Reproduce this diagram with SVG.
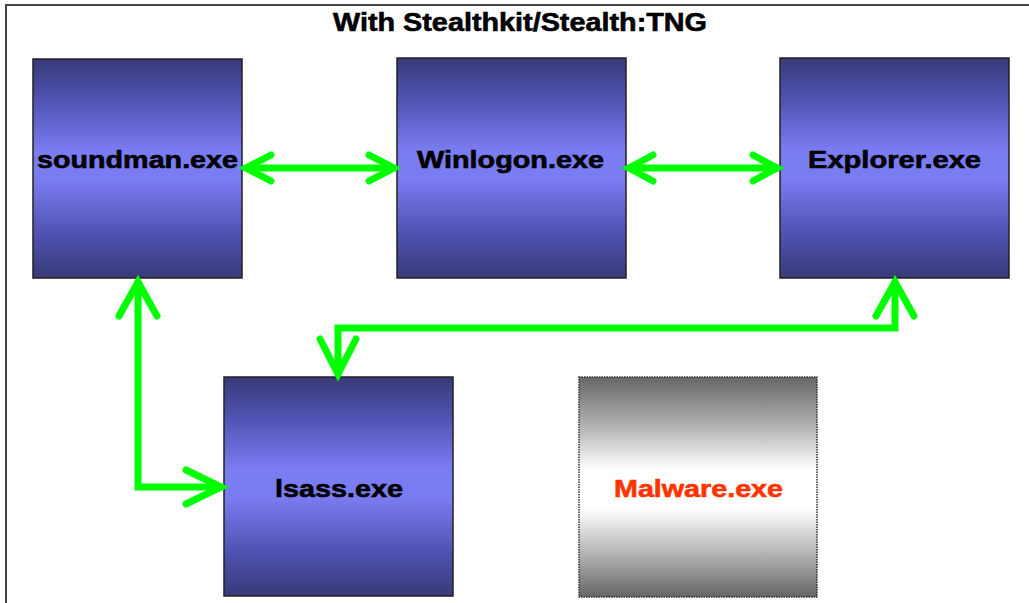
<svg xmlns="http://www.w3.org/2000/svg" width="1029" height="603" viewBox="0 0 1029 603">
<defs>
<linearGradient id="blue" x1="0" y1="0" x2="0" y2="1">
<stop offset="0" stop-color="#383a78"/>
<stop offset="0.18" stop-color="#4f52b0"/>
<stop offset="0.42" stop-color="#7a7cf2"/>
<stop offset="0.55" stop-color="#7a7cf2"/>
<stop offset="0.8" stop-color="#4f52b0"/>
<stop offset="1" stop-color="#383a78"/>
</linearGradient>
<linearGradient id="grey" x1="0" y1="0" x2="0" y2="1">
<stop offset="0" stop-color="#666666"/>
<stop offset="0.25" stop-color="#bcbcbc"/>
<stop offset="0.42" stop-color="#ffffff"/>
<stop offset="0.6" stop-color="#ffffff"/>
<stop offset="0.78" stop-color="#bcbcbc"/>
<stop offset="1" stop-color="#666666"/>
</linearGradient>
</defs>
<style>
.box{fill:url(#blue);stroke:#222;stroke-width:1.5}
.gbox{fill:url(#grey);stroke:#333;stroke-width:1.5;stroke-dasharray:1.5 1}
.lbl{font-family:"Liberation Sans",Arial,sans-serif;font-weight:bold;font-size:24px;fill:#000;stroke:#000;stroke-width:0.6}
.conn{fill:none;stroke:#00ff00;stroke-width:7;stroke-linecap:round;stroke-linejoin:miter}
</style>
<rect x="0" y="0" width="1029" height="603" fill="#fff"/>
<path d="M6,603 V5 H1029" fill="none" stroke="#444" stroke-width="2"/>
<text x="520" y="31" text-anchor="middle" textLength="374" lengthAdjust="spacingAndGlyphs" style="font-family:'Liberation Sans',Arial,sans-serif;font-weight:bold;font-size:26px;fill:#000;stroke:#000;stroke-width:0.6">With Stealthkit/Stealth:TNG</text>

<g id="soundman">
<rect class="box" x="33" y="59" width="209" height="219"/>
<text class="lbl" x="37" y="168" textLength="201" lengthAdjust="spacingAndGlyphs">soundman.exe</text>
</g>
<g id="winlogon">
<rect class="box" x="397" y="58" width="229" height="220"/>
<text class="lbl" x="417" y="168" textLength="187" lengthAdjust="spacingAndGlyphs">Winlogon.exe</text>
</g>
<g id="explorer">
<rect class="box" x="780" y="58" width="229" height="220"/>
<text class="lbl" x="808" y="168" textLength="173" lengthAdjust="spacingAndGlyphs">Explorer.exe</text>
</g>
<g id="lsass">
<rect class="box" x="224" y="377" width="229" height="219"/>
<text class="lbl" x="275" y="497" textLength="128" lengthAdjust="spacingAndGlyphs">lsass.exe</text>
</g>
<g id="malware">
<rect class="gbox" x="579" y="377" width="238" height="220"/>
<text class="lbl" x="614" y="497" textLength="169" lengthAdjust="spacingAndGlyphs" style="fill:#ff3300;stroke:#ff3300">Malware.exe</text>
</g>

<g id="connectors">
<path class="conn" d="M246,168 H394"/>
<path class="conn" d="M271,155 L246,168 L271,181"/>
<path class="conn" d="M369,155 L394,168 L369,181"/>

<path class="conn" d="M629,168 H777"/>
<path class="conn" d="M653,155 L629,168 L653,181"/>
<path class="conn" d="M753,155 L777,168 L753,181"/>

<path class="conn" d="M138,282 V487 H221"/>
<path class="conn" d="M119,316 L138,282 L157,316"/>
<path class="conn" d="M186,470 L221,487 L186,504"/>

<path class="conn" d="M895,282 V328 H338 V374"/>
<path class="conn" d="M876,316 L895,282 L914,316"/>
<path class="conn" d="M320,339 L338,374 L356,339"/>
</g>
</svg>
